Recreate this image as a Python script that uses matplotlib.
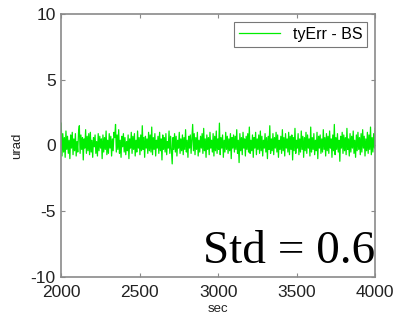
import numpy as np
import matplotlib
matplotlib.use("Agg")
import matplotlib.pyplot as plt

plt.rcParams['font.family'] = ['Liberation Sans', 'DejaVu Sans']
plt.rcParams['axes.unicode_minus'] = False

# time span of the record (sec)
t_start = 2000
t_end = 4000

# tyErr - BS samples (urad) left to right
ty_err = [
    1.7, -0.8, 0.9, -0.5, 0.6, -0.9, 1.1, -0.3, 0.7, -0.6, 0.4, -1.0, 0.8, -0.2, 1.0, -0.7, 0.5, -0.4, 0.9, -0.8,
    0.3, -0.5, 1.0, 1.5, -0.6, 0.8, -0.3, 0.6, -1.1, 0.5, -0.2, 1.2, -0.6, 0.7, -0.4, 0.9, -0.7, 1.0, -0.5, 0.4,
    -0.9, 0.6, -0.1, 0.8, -0.6, 0.3, -0.8, 0.9, -0.4, 0.7, -0.2, 0.5, -1.0, 0.8, -0.5, 0.6, -0.3, 1.1, -0.7, 0.4,
    -0.6, 0.9, -0.2, 0.7, -0.8, 0.5, -0.4, 1.0, 0.6, 1.6, -0.5, 0.8, -0.3, 1.2, -0.6, 0.4, -0.9, 0.7, -0.1, 0.9,
    -0.5, 0.6, -0.7, 0.3, -0.4, 0.8, -1.0, 0.5, -0.2, 1.0, -0.6, 0.7, -0.3, 0.9, -0.8, 0.4, -0.5, 1.1, -0.2, 0.6,
    -0.7, 0.8, -0.4, 1.5, -0.3, 0.6, -0.9, 0.7, -0.2, 0.5, -0.6, 1.0, -0.4, 0.8, -0.5, 1.4, -0.7, 0.6, -0.3, 0.9,
    -0.8, 0.4, -0.2, 0.7, -0.6, 1.0, -0.4, 0.5, -1.1, 0.8, -0.3, 0.6, -0.5, 0.9, -0.7, 0.3, -0.2, 1.1, -0.6, 0.7,
    -0.4, -1.4, 0.6, -0.3, 0.9, -0.5, 0.7, -0.8, 0.4, -0.2, 1.0, -0.6, 0.5, -0.4, 0.8, -0.7, 0.6, -0.3, 1.2, -0.5,
    0.4, -0.9, 0.7, -0.2, 0.8, -0.6, 0.5, 1.6, -0.4, 0.9, -0.7, 0.6, -0.3, 1.0, -0.8, 0.4, -0.5, 0.7, -0.2, 0.9,
    -0.6, 1.3, -0.4, 0.5, -0.9, 0.8, -0.3, 0.6, -0.7, 1.0, -0.2, 0.4, -0.5, 0.9, -0.8, 0.7, -0.4, 1.1, -0.6, 0.5,
    -0.3, 1.7, -0.7, 0.6, -0.2, 0.8, -0.9, 0.4, -0.5, 1.0, -0.3, 0.7, -0.6, 0.5, -0.4, 0.9, -1.0, 0.6, -0.2, 0.8,
    -0.5, 0.7, -0.3, 1.2, -0.6, 0.4, -1.3, 0.9, -0.4, 0.6, -0.7, 1.0, -0.2, 0.5, -0.8, 0.7, -0.3, 0.9, -0.5, 1.4,
    -0.6, 0.4, -0.4, 0.8, -0.9, 0.6, -0.2, 1.0, -0.7, 0.5, -0.3, 0.8, -0.6, 1.1, -0.4, 0.7, -0.8, 0.4, -0.2, 0.9,
    -0.5, 0.6, -1.0, 0.7, -0.3, 1.5, -0.6, 0.5, -0.4, 0.9, -0.7, 0.6, -0.2, 1.0, -0.5, 0.8, -0.9, 0.4, -0.3, 0.7,
    -0.6, 1.2, -0.4, 0.6, -0.8, 0.9, -0.2, 0.5, -0.5, 1.0, -0.7, 0.7, -0.3, 0.8, -1.1, 0.6, -0.4, 1.3, -0.6, 0.4,
    -0.2, 0.9, -0.7, 0.5, -0.5, 1.1, -0.3, 0.7, -0.9, 0.6, -0.4, 1.0, -0.6, 0.8, -0.2, 0.5, -0.8, 1.4, -0.5, 0.6,
    -0.3, 0.9, -0.7, 0.4, -0.4, 1.0, -1.0, 0.7, -0.2, 0.8, -0.6, 0.5, -0.5, 1.2, -0.3, 0.6, -0.8, 0.9, -0.4, 0.7,
    -0.6, 1.1, -0.2, 0.5, -0.9, 0.8, -0.4, 1.6, -0.7, 0.6, -0.3, 0.9, -0.5, 0.4, -1.2, 0.7, -0.2, 1.0, -0.6, 0.8,
    -0.4, 0.6, -0.7, 1.3, -0.3, 0.5, -0.8, 0.9, -0.5, 0.7, -0.2, 1.1, -0.6, 0.4, -0.9, 0.8, -0.4, 1.0, -0.3, 0.6,
    -0.7, 0.9, -0.5, 1.2, -0.2, 0.7, -0.8, 0.5, -0.4, 1.0, -0.6, 0.8, -0.3, 1.4, -0.7, 0.6, -0.5, 0.9, -0.2, 1.3,
]
xticks = [2000, 2500, 3000, 3500, 4000]
yticks = [-10, -5, 0, 5, 10]

t = np.linspace(t_start, t_end, len(ty_err))

fig = plt.figure(figsize=(3.95, 3.24), dpi=100)
ax = fig.add_axes([0.155, 0.145, 0.795, 0.812])

ax.plot(t, ty_err, color='#00ee00', lw=0.9, label='tyErr - BS')
ax.set_xlim(t_start, t_end)
ax.set_ylim(-10, 10)
ax.set_xticks(xticks)
ax.set_yticks(yticks)

for s in ax.spines.values():
    s.set_color('#8a8a8a')
    s.set_linewidth(1.2)
ax.tick_params(direction='in', length=3, color='#8a8a8a', top=True, right=True,
               labelsize=12.5, labelcolor='#222222')
ax.tick_params(axis='x', pad=6)
ax.tick_params(axis='y', pad=4)
ax.set_xlabel('sec', fontsize=9.5, color='#222222', labelpad=2)
ax.set_ylabel('urad', fontsize=9.5, color='#222222', labelpad=5)

leg = ax.legend(loc='upper right', fontsize=11.5, frameon=True, fancybox=False,
                handlelength=2.6, borderpad=0.3, borderaxespad=0.5)
leg.get_frame().set_edgecolor('#555555')
leg.get_frame().set_linewidth(0.8)

ax.text(1.0, 0.015, 'Std = 0.6', transform=ax.transAxes, ha='right', va='bottom',
        family='Liberation Serif', fontsize=34, color='black')

fig.savefig('out.png', dpi=100)
